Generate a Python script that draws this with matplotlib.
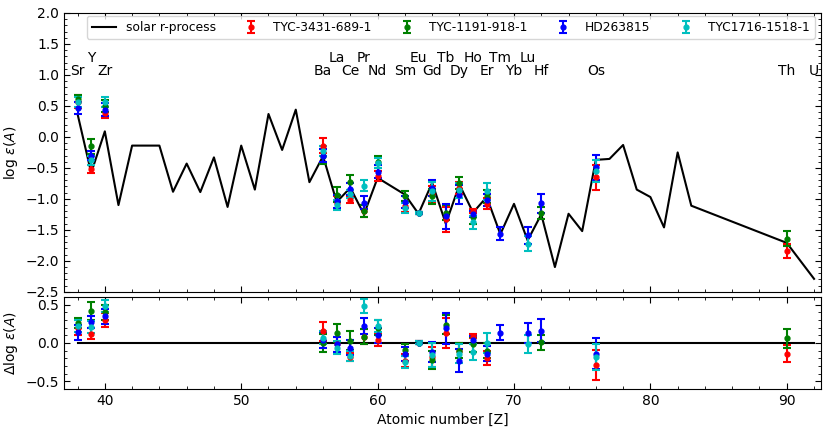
import numpy as np
import matplotlib
matplotlib.use('Agg')
import matplotlib.pyplot as plt
from matplotlib.ticker import AutoMinorLocator

# solar r-process pattern (scaled)
solar_z = [38, 39, 40, 41, 42, 44, 45, 46, 47, 48, 49, 50, 51, 52, 53, 54, 55,
           56, 57, 58, 59, 60, 62, 63, 64, 65, 66, 67, 68, 69, 70, 71, 72, 73,
           74, 75, 76, 77, 78, 79, 80, 81, 82, 83, 90, 92]
solar_logeps = [0.37, -0.58, 0.09, -1.10, -0.14, -0.14, -0.885, -0.43, -0.89,
                -0.33, -1.13, -0.14, -0.85, 0.37, -0.21, 0.44, -0.73, -0.31,
                -1.05, -0.82, -1.25, -0.66, -0.93, -1.24, -0.74, -1.40, -0.77,
                -1.22, -0.97, -1.57, -1.08, -1.67, -1.25, -2.10, -1.24, -1.52,
                -0.37, -0.355, -0.13, -0.85, -0.97, -1.46, -0.25, -1.11, -1.71,
                -2.29]

# element labels
label_z = [38, 39, 40, 56, 57, 58, 59, 60, 62, 63, 64, 65, 66, 67, 68, 69, 70,
           71, 72, 76, 90, 92]
label_names = ['Sr', 'Y', 'Zr', 'Ba', 'La', 'Ce', 'Pr', 'Nd', 'Sm', 'Eu', 'Gd',
               'Tb', 'Dy', 'Ho', 'Er', 'Tm', 'Yb', 'Lu', 'Hf', 'Os', 'Th', 'U']

# measured elements
star_z = [38, 39, 40, 56, 57, 58, 59, 60, 62, 63, 64, 65, 66, 67, 68, 69, 71,
          72, 76, 90]
nan = np.nan

star_names = ['TYC-3431-689-1', 'TYC-1191-918-1', 'HD263815', 'TYC1716-1518-1']
star_colors = ['r', 'g', 'b', 'c']

red_logeps = [0.57, -0.52, 0.39, -0.14, -1.06, -1.02, -1.20, -0.63, -1.12,
              -1.23, -0.92, -1.33, -0.82, -1.20, -1.08, nan, nan, nan, -0.65,
              -1.84]
red_err = [0.10, 0.07, 0.09, 0.12, 0.10, 0.05, 0.10, 0.08, 0.09, 0.02, 0.13,
           0.20, 0.10, 0.03, 0.09, nan, nan, nan, 0.20, 0.11]
red_delta = [0.20, 0.12, 0.30, 0.15, -0.02, -0.18, 0.08, 0.04, -0.23, 0.0,
             -0.18, 0.13, -0.10, 0.09, -0.20, nan, nan, nan, -0.29, -0.14]

green_logeps = [0.62, -0.15, 0.50, -0.31, -0.93, -0.73, -1.20, -0.40, -0.95,
                -1.23, -0.96, -1.22, -0.74, -1.30, -0.96, nan, nan, -1.23, nan,
                -1.64]
green_err = [0.06, 0.12, 0.10, 0.12, 0.12, 0.12, 0.10, 0.10, 0.08, 0.02, 0.12,
             0.12, 0.10, 0.10, 0.10, nan, nan, 0.10, nan, 0.12]
green_delta = [0.26, 0.42, 0.40, 0.0, 0.13, 0.03, 0.08, 0.20, -0.095, 0.0,
               -0.22, 0.24, -0.10, -0.02, -0.10, nan, nan, 0.01, nan, 0.06]

blue_logeps = [0.47, -0.30, 0.44, -0.30, -1.04, -0.84, -1.06, -0.56, -1.05,
               -1.23, -0.82, -1.28, -0.93, -1.25, -1.02, -1.56, -1.59, -1.07,
               -0.49, nan]
blue_err = [0.10, 0.08, 0.10, 0.10, 0.10, 0.10, 0.10, 0.10, 0.09, 0.02, 0.13,
            0.20, 0.15, 0.05, 0.10, 0.10, 0.13, 0.15, 0.20, nan]
blue_delta = [0.14, 0.27, 0.35, 0.04, -0.02, -0.06, 0.22, 0.10, -0.14, 0.0,
              -0.12, 0.19, -0.23, 0.035, -0.14, 0.135, 0.13, 0.16, -0.14, nan]

cyan_logeps = [0.57, -0.38, 0.57, -0.22, -1.10, -0.92, -0.79, -0.42, -1.15,
               -1.23, -0.88, nan, -0.86, -1.38, -0.88, nan, -1.72, nan, -0.55,
               nan]
cyan_err = [0.08, 0.08, 0.08, 0.08, 0.08, 0.07, 0.09, 0.08, 0.08, 0.02, 0.16,
            nan, 0.12, 0.10, 0.13, nan, 0.12, nan, 0.17, nan]
cyan_delta = [0.22, 0.21, 0.48, 0.07, -0.06, -0.17, 0.48, 0.22, -0.25, 0.0,
              -0.16, nan, -0.14, -0.12, 0.0, nan, -0.01, nan, -0.19, nan]

all_logeps = [red_logeps, green_logeps, blue_logeps, cyan_logeps]
all_err = [red_err, green_err, blue_err, cyan_err]
all_delta = [red_delta, green_delta, blue_delta, cyan_delta]

fig = plt.figure(figsize=(8.3, 4.33), dpi=100)
ax1 = fig.add_axes([0.077, 0.326, 0.912, 0.644])
ax2 = fig.add_axes([0.077, 0.102, 0.912, 0.212], sharex=ax1)

ax1.plot(solar_z, solar_logeps, color='k', lw=1.5, label='solar r-process')
ax2.plot([solar_z[0], solar_z[-1]], [0, 0], color='k', lw=1.5)

for name, col, y, e, d in zip(star_names, star_colors, all_logeps, all_err, all_delta):
    ax1.errorbar(star_z, y, yerr=e, fmt='o', color=col, ms=3.5, capsize=3,
                 elinewidth=1.5, capthick=1.5, label=name)
    ax2.errorbar(star_z, d, yerr=e, fmt='o', color=col, ms=3.5, capsize=3,
                 elinewidth=1.5, capthick=1.5)

for z, n in zip(label_z, label_names):
    yy = 1.27 if z % 2 == 1 else 1.06
    ax1.text(z, yy, n, ha='center', va='center', fontsize=10)

ax1.set_xlim(37, 92.5)
ax1.set_ylim(-2.5, 2.0)
ax2.set_ylim(-0.6, 0.6)
ax1.set_yticks(np.arange(-2.5, 2.01, 0.5))
ax2.set_yticks([-0.5, 0.0, 0.5])
ax2.set_xticks([40, 50, 60, 70, 80, 90])

for ax in (ax1, ax2):
    ax.xaxis.set_minor_locator(AutoMinorLocator())
    ax.yaxis.set_minor_locator(AutoMinorLocator())
    ax.tick_params(which='both', direction='in', top=True, right=True,
                   labelsize=10)
    ax.tick_params(which='major', length=4)
    ax.tick_params(which='minor', length=2)
ax1.tick_params(labelbottom=False)

ax1.set_ylabel(r'$\log\,\varepsilon(A)$', fontsize=10)
ax2.set_ylabel(r'$\Delta\log\,\varepsilon(A)$', fontsize=10)
ax2.set_xlabel('Atomic number [Z]', fontsize=10)

ax1.legend(loc='upper center', bbox_to_anchor=(0.511, 1.0), ncol=5,
           fontsize=8.8, handletextpad=0.8, columnspacing=1.9,
           borderaxespad=0.25)

plt.savefig('out.png', dpi=100)
